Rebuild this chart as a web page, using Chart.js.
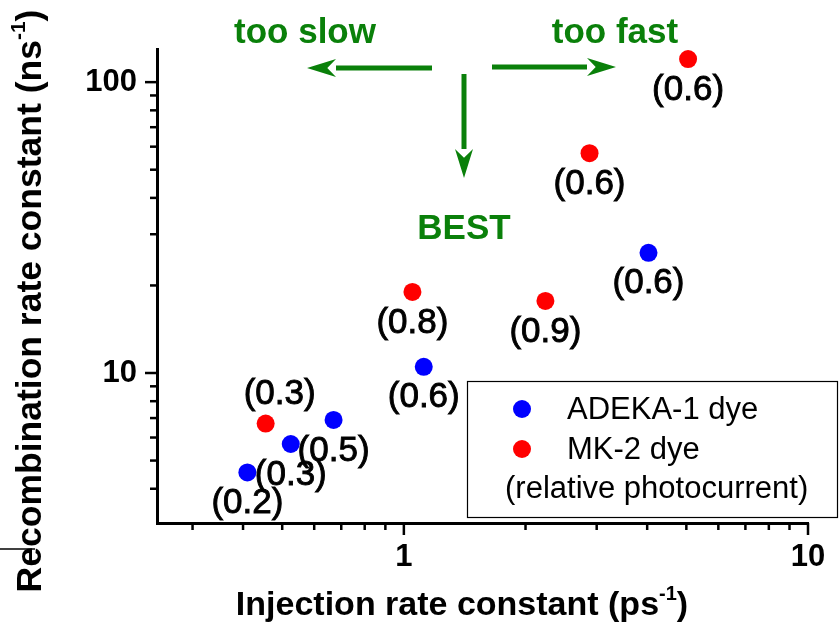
<!DOCTYPE html>
<html>
<head>
<meta charset="utf-8">
<script src="https://cdn.jsdelivr.net/npm/chart.js@4.4.1/dist/chart.umd.min.js"></script>
<style>
  body { margin: 0; background: #fff; }
  #wrap { width: 840px; height: 631px; position: relative; }
</style>
</head>
<body>
<div id="wrap"><canvas id="rates"></canvas></div>
<script>
// injection (ps^-1) vs recombination (ns^-1) rate constants
const adekaInj = [0.41, 0.525, 0.67, 1.12, 4.03];
const adekaRec = [4.55, 5.7, 6.9, 10.5, 25.9];
const adekaPhoto = ['0.2', '0.3', '0.5', '0.6', '0.6'];

const mk2Inj = [0.455, 1.05, 2.24, 2.88, 5.05];
const mk2Rec = [6.7, 19.0, 17.7, 57, 120];
const mk2Photo = ['0.3', '0.8', '0.9', '0.6', '0.6'];

const seriesNames = ['ADEKA-1 dye', 'MK-2 dye'];
const legendNote = '(relative photocurrent)';
const xTickLabels = [1, 10];
const yTickLabels = [10, 100];

const FONT = '"Liberation Sans", Arial, sans-serif';
const GREEN = '#0a800a';

function toPoints(xs, ys) {
  return xs.map((x, i) => ({x: x, y: ys[i]}));
}

// keep only 1..9 x 10^n ticks on the log axes
function niceTicks(scale) {
  scale.ticks = scale.ticks.filter(t => {
    const m = t.value / Math.pow(10, Math.floor(Math.log10(t.value) + 1e-9));
    return Math.abs(m - Math.round(m)) < 1e-6;
  });
}

function isDecade(v) {
  const l = Math.log10(v);
  return Math.abs(l - Math.round(l)) < 1e-6;
}

// outward tick marks, longer at each decade
const tickMarks = {
  id: 'tickMarks',
  afterDraw(chart) {
    const ctx = chart.ctx;
    const a = chart.chartArea;
    ctx.save();
    ctx.strokeStyle = '#000';
    ctx.lineWidth = 2.5;
    chart.scales.x.ticks.forEach(t => {
      const px = chart.scales.x.getPixelForValue(t.value);
      const len = isDecade(t.value) ? 12 : 7;
      ctx.beginPath();
      ctx.moveTo(px, a.bottom);
      ctx.lineTo(px, a.bottom + len);
      ctx.stroke();
    });
    chart.scales.y.ticks.forEach(t => {
      const py = chart.scales.y.getPixelForValue(t.value);
      const len = isDecade(t.value) ? 12 : 7;
      ctx.beginPath();
      ctx.moveTo(a.left, py);
      ctx.lineTo(a.left - len, py);
      ctx.stroke();
    });
    ctx.restore();
  }
};

// photocurrent values written next to each dot
const pointLabels = {
  id: 'pointLabels',
  afterDatasetsDraw(chart, args, opts) {
    const ctx = chart.ctx;
    ctx.save();
    ctx.font = '35px ' + FONT;
    ctx.fillStyle = '#000';
    ctx.strokeStyle = '#000';
    ctx.lineWidth = 0.9;
    ctx.textAlign = 'center';
    ctx.textBaseline = 'middle';
    chart.data.datasets.forEach((ds, di) => {
      chart.getDatasetMeta(di).data.forEach((el, i) => {
        const shift = opts.shift[di + '-' + i] || [0, 31];
        const txt = '(' + ds.photo[i] + ')';
        ctx.fillText(txt, el.x + shift[0], el.y + shift[1]);
        ctx.strokeText(txt, el.x + shift[0], el.y + shift[1]);
      });
    });
    ctx.restore();
  }
};

function arrow(ctx, x0, y0, x1, y1) {
  const ang = Math.atan2(y1 - y0, x1 - x0);
  const head = 29, half = 9;
  const bx = x1 - head * Math.cos(ang), by = y1 - head * Math.sin(ang);
  ctx.beginPath();
  ctx.moveTo(x0, y0);
  ctx.lineTo(bx, by);
  ctx.stroke();
  ctx.beginPath();
  ctx.moveTo(x1, y1);
  ctx.lineTo(bx + half * Math.sin(ang), by - half * Math.cos(ang));
  ctx.lineTo(bx + 0.3 * head * Math.cos(ang), by + 0.3 * head * Math.sin(ang));
  ctx.lineTo(bx - half * Math.sin(ang), by + half * Math.cos(ang));
  ctx.closePath();
  ctx.fill();
}

// titles, legend box and the green guide arrows
const decorations = {
  id: 'decorations',
  afterDraw(chart) {
    const ctx = chart.ctx;
    ctx.save();

    // axis titles with superscript -1
    ctx.fillStyle = '#000';
    ctx.textBaseline = 'alphabetic';
    const drawTitle = (main, unit, cx, cy, size) => {
      const big = 'bold ' + size + 'px ' + FONT;
      const small = 'bold ' + Math.round(size * 0.6) + 'px ' + FONT;
      ctx.font = big;
      const w1 = ctx.measureText(main + unit).width;
      const w2 = ctx.measureText(')').width;
      ctx.font = small;
      const ws = ctx.measureText('-1').width;
      let x = cx - (w1 + ws + w2) / 2;
      ctx.textAlign = 'left';
      ctx.font = big;
      ctx.fillText(main + unit, x, cy);
      x += w1;
      ctx.font = small;
      ctx.fillText('-1', x, cy - size * 0.45);
      x += ws;
      ctx.font = big;
      ctx.fillText(')', x, cy);
    };
    drawTitle('Injection rate constant (', 'ps', 462, 615, 34);
    ctx.save();
    ctx.translate(41, 301);
    ctx.rotate(-Math.PI / 2);
    drawTitle('Recombination rate constant (', 'ns', 0, 0, 35.5);
    ctx.restore();

    // legend
    const lx = 467, ly = 381, lw = 370, lh = 136;
    ctx.fillStyle = '#fff';
    ctx.fillRect(lx, ly, lw, lh);
    ctx.strokeStyle = '#000';
    ctx.lineWidth = 1.2;
    ctx.strokeRect(lx + 0.5, ly + 0.5, lw, lh);
    ctx.font = '31px ' + FONT;
    ctx.textAlign = 'left';
    ctx.textBaseline = 'middle';
    chart.data.datasets.forEach((ds, i) => {
      const yy = ly + 28 + i * 40;
      ctx.fillStyle = ds.backgroundColor;
      ctx.beginPath();
      ctx.arc(lx + 55, yy, 9, 0, Math.PI * 2);
      ctx.fill();
      ctx.fillStyle = '#000';
      ctx.fillText(ds.label, lx + 100, yy + 1);
    });
    ctx.fillText(legendNote, lx + 38, ly + 108);

    // guide arrows
    ctx.strokeStyle = GREEN;
    ctx.fillStyle = GREEN;
    ctx.lineWidth = 5;
    arrow(ctx, 432, 68, 307, 68);
    arrow(ctx, 492, 67, 616, 67);
    arrow(ctx, 464, 74, 464, 178);
    ctx.font = 'bold 35px ' + FONT;
    ctx.textAlign = 'center';
    ctx.textBaseline = 'alphabetic';
    ctx.fillText('too slow', 305, 43);
    ctx.fillText('too fast', 615, 43);
    ctx.fillText('BEST', 464, 239);

    // stray frame edge at lower left
    ctx.strokeStyle = '#000';
    ctx.lineWidth = 1.5;
    ctx.beginPath();
    ctx.moveTo(0, 549);
    ctx.lineTo(35, 549);
    ctx.stroke();
    ctx.restore();
  }
};

new Chart(document.getElementById('rates'), {
  type: 'scatter',
  data: {
    datasets: [
      {
        label: seriesNames[0],
        data: toPoints(adekaInj, adekaRec),
        photo: adekaPhoto,
        backgroundColor: '#0000ff',
        borderWidth: 0,
        pointRadius: 9
      },
      {
        label: seriesNames[1],
        data: toPoints(mk2Inj, mk2Rec),
        photo: mk2Photo,
        backgroundColor: '#ff0000',
        borderWidth: 0,
        pointRadius: 9
      }
    ]
  },
  options: {
    responsive: true,
    maintainAspectRatio: false,
    animation: false,
    layout: { padding: { left: 0, right: 32, top: 49, bottom: 0 } },
    plugins: {
      legend: { display: false },
      tooltip: { enabled: false },
      pointLabels: { shift: { '1-0': [14, -29] } }
    },
    scales: {
      x: {
        type: 'logarithmic',
        min: 0.245,
        max: 10,
        afterBuildTicks: niceTicks,
        afterFit: s => { s.height = 108; },
        grid: { display: false, drawTicks: true, tickLength: 12 },
        border: { display: true, color: '#000', width: 3 },
        ticks: {
          autoSkip: false,
          maxRotation: 0,
          padding: 4,
          color: '#000',
          font: { family: FONT, size: 31, weight: 'bold' },
          callback: v => xTickLabels.includes(v) ? String(v) : ''
        }
      },
      y: {
        type: 'logarithmic',
        min: 3.05,
        max: 130,
        afterBuildTicks: niceTicks,
        afterFit: s => { s.width = 157; },
        grid: { display: false, drawTicks: true, tickLength: 12 },
        border: { display: true, color: '#000', width: 3 },
        ticks: {
          autoSkip: false,
          padding: 8,
          color: '#000',
          font: { family: FONT, size: 31, weight: 'bold' },
          callback: v => yTickLabels.includes(v) ? String(v) : ''
        }
      }
    }
  },
  plugins: [tickMarks, pointLabels, decorations]
});
</script>
</body>
</html>
